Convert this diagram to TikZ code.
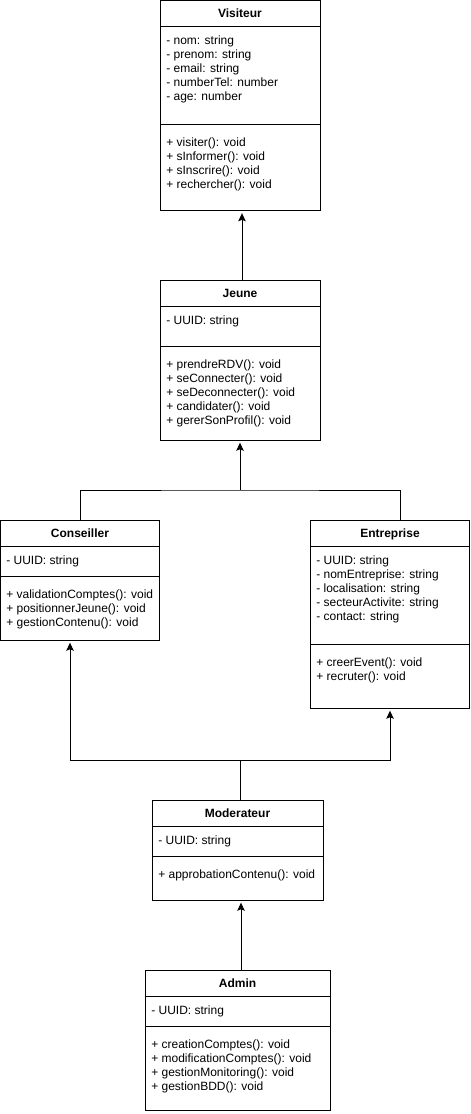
\documentclass[tikz,border=0pt]{standalone}
\usepackage{fontspec}
\setmainfont{Liberation Sans}
\usetikzlibrary{arrows.meta}
\begin{document}
\begin{tikzpicture}[x=0.75pt,y=-0.75pt,
  box/.style={draw,line width=0.75pt,anchor=north west,inner sep=0pt,outer sep=0pt,fill=white},
  ttl/.style={font=\bfseries\fontsize{9}{10.5}\selectfont,anchor=base,inner sep=0pt},
  txt/.style={font=\fontsize{9}{10.5}\selectfont,anchor=base west,inner sep=0pt},
  sepline/.style={line width=0.75pt},
  conn/.style={line width=0.75pt},
  inh/.style={line width=0.75pt,-{Stealth[length=6pt,width=5.5pt,inset=1pt]},shorten >=2pt}]
\useasboundingbox (0,0) rectangle (471,1114);
% boxes
\node[box,minimum width=120pt,minimum height=157.5pt] (vis) at (160,0.5) {};
\node[box,minimum width=120pt,minimum height=120pt] (jeu) at (160,280) {};
\node[box,minimum width=119.6pt,minimum height=90pt] (con) at (0.5,520) {};
\node[box,minimum width=119.6pt,minimum height=141pt] (ent) at (310,520) {};
\node[box,minimum width=128.25pt,minimum height=75pt] (mod) at (152,800) {};
\node[box,minimum width=138.75pt,minimum height=105pt] (adm) at (145,970) {};
% dividers
\draw[sepline] (160,26) -- (320,26) (160,124) -- (320,124);
\draw[sepline] (160,306) -- (320,306) (160,346) -- (320,346);
\draw[sepline] (0.5,546) -- (160,546) (0.5,576) -- (160,576);
\draw[sepline] (310,546) -- (470,546) (310,644) -- (470,644);
\draw[sepline] (152,826) -- (323,826) (152,856) -- (323,856);
\draw[sepline] (145,996) -- (330,996) (145,1026) -- (330,1026);
% titles
\node[ttl] (vis-t) at (240,17) {Visiteur};
\node[ttl] (jeu-t) at (240,297) {Jeune};
\node[ttl] (con-t) at (80,537) {Conseiller};
\node[ttl] (ent-t) at (390,537) {Entreprise};
\node[ttl] (mod-t) at (237.5,817) {Moderateur};
\node[ttl] (adm-t) at (237.5,987) {Admin};
% Visiteur
\foreach \t [count=\i] in {{- nom: string},{- prenom: string},{- email: string},{- numberTel: number},{- age: number}}
  \node[txt] (vis-a\i) at (166,30+14*\i) {\t};
\foreach \t [count=\i] in {{+ visiter(): void},{+ sInformer(): void},{+ sInscrire(): void},{+ rechercher(): void}}
  \node[txt] (vis-m\i) at (166,132+14*\i) {\t};
% Jeune
\node[txt] (jeu-a1) at (166,324) {- UUID: string};
\foreach \t [count=\i] in {{+ prendreRDV(): void},{+ seConnecter(): void},{+ seDeconnecter(): void},{+ candidater(): void},{+ gererSonProfil(): void}}
  \node[txt] (jeu-m\i) at (166,354+14*\i) {\t};
% Conseiller
\node[txt] (con-a1) at (6,564) {- UUID: string};
\foreach \t [count=\i] in {{+ validationComptes(): void},{+ positionnerJeune(): void},{+ gestionContenu(): void}}
  \node[txt] (con-m\i) at (6,584+14*\i) {\t};
% Entreprise
\foreach \t [count=\i] in {{- UUID: string},{- nomEntreprise: string},{- localisation: string},{- secteurActivite: string},{- contact: string}}
  \node[txt] (ent-a\i) at (316,550+14*\i) {\t};
\foreach \t [count=\i] in {{+ creerEvent(): void},{+ recruter(): void}}
  \node[txt] (ent-m\i) at (316,652+14*\i) {\t};
% Moderateur
\node[txt] (mod-a1) at (158,844) {- UUID: string};
\node[txt] (mod-m1) at (158,878) {+ approbationContenu(): void};
% Admin
\node[txt] (adm-a1) at (151,1014) {- UUID: string};
\foreach \t [count=\i] in {{+ creationComptes(): void},{+ modificationComptes(): void},{+ gestionMonitoring(): void},{+ gestionBDD(): void}}
  \node[txt] (adm-m\i) at (151,1034+14*\i) {\t};
% connectors
\coordinate (vx) at (242,0);
\draw[inh] (jeu.north -| vx) -- (vis.south -| vx);
\coordinate (jm) at (240,490);
\coordinate (cx) at (80,0);
\coordinate (ex) at (400,0);
\draw[conn] (con.north -| cx) |- (jm) -| (ent.north -| ex);
\draw[inh] (jm) -- (jeu.south -| jm);
\coordinate (mm) at (240,760);
\coordinate (cx2) at (70,0);
\coordinate (ex2) at (390,0);
\draw[conn] (mod.north -| mm) -- (mm);
\draw[inh] (mm) -| (con.south -| cx2);
\draw[inh] (mm) -| (ent.south -| ex2);
\coordinate (ax) at (241,0);
\draw[inh] (adm.north -| ax) -- (mod.south -| ax);
\end{tikzpicture}
\end{document}
